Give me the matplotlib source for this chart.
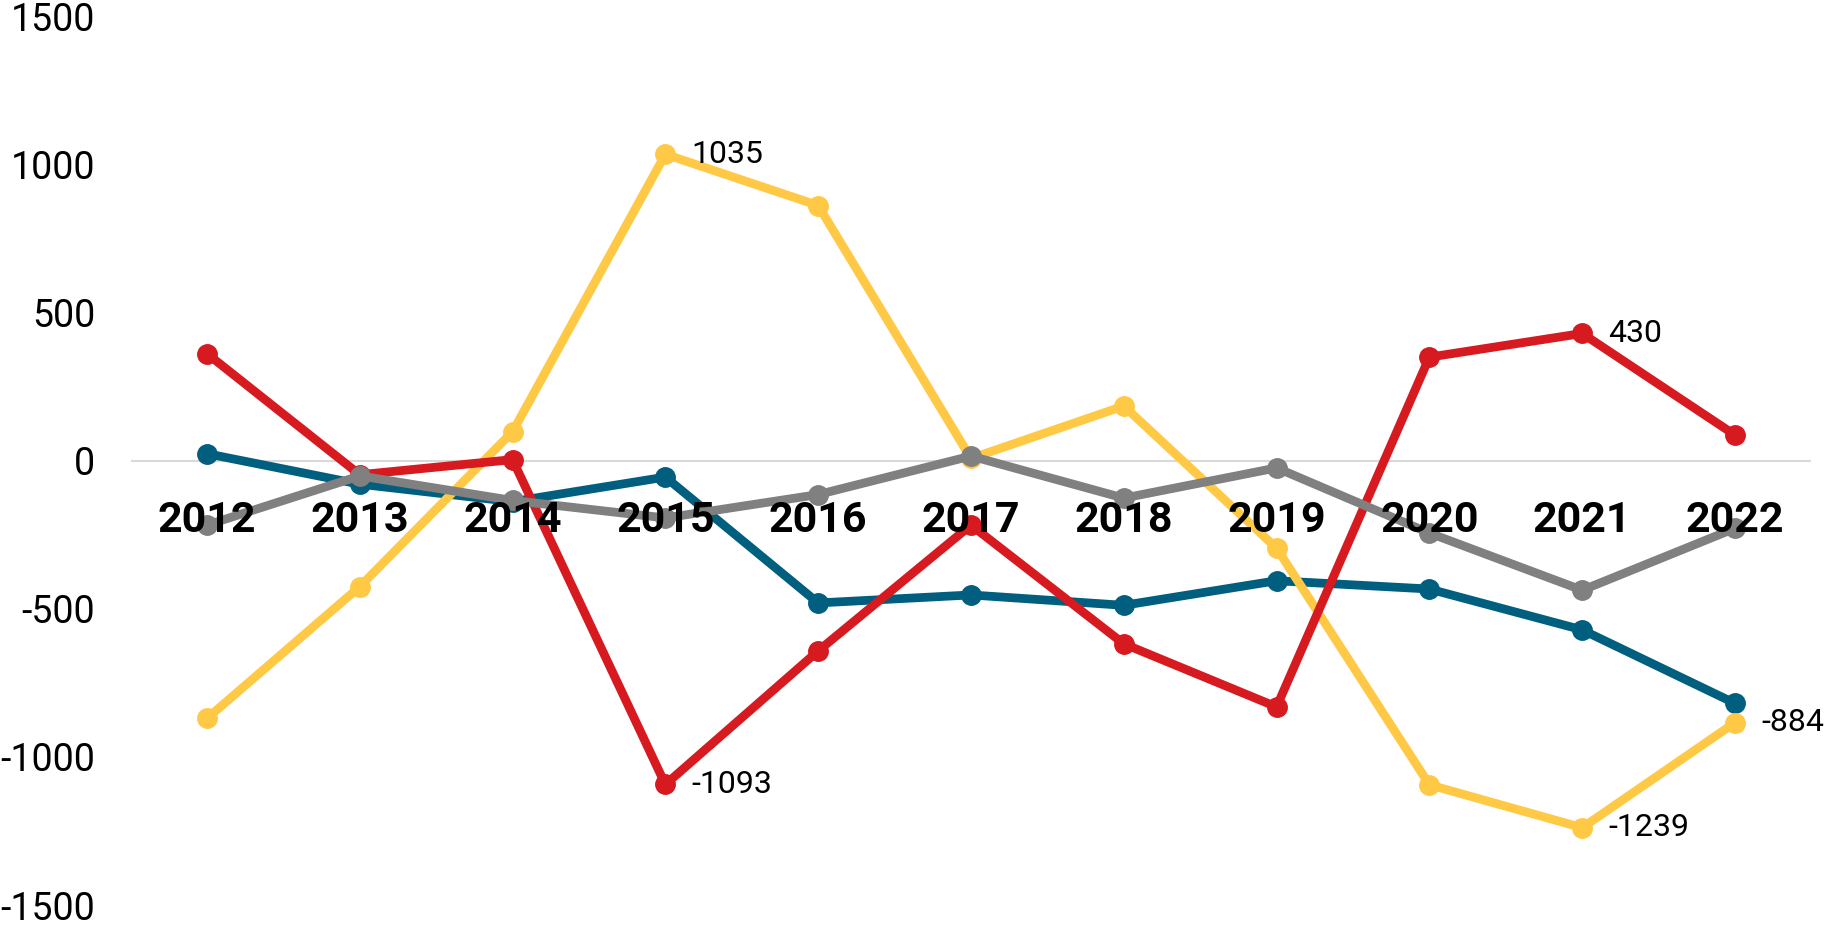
import matplotlib.pyplot as plt

plt.rcParams['font.family'] = ['Roboto', 'DejaVu Sans']
plt.rcParams['axes.unicode_minus'] = False

# Data
years = ['2012', '2013', '2014', '2015', '2016', '2017', '2018', '2019', '2020', '2021', '2022']
teal = [24, -79, -138, -55, -480, -453, -488, -405, -433, -571, -819]
yellow = [-870, -425, 98, 1035, 862, 8, 185, -295, -1094, -1239, -884]
red = [362, -47, 4, -1093, -642, -217, -618, -831, 350, 430, 87]
grey = [-217, -51, -134, -193, -114, 16, -126, -24, -244, -437, -228]

# Points that carry a value label: (series, index)
labelled = [('yellow', 3), ('red', 3), ('red', 9), ('yellow', 9), ('yellow', 10)]

colors = {'teal': '#005F7F', 'yellow': '#FFC845', 'red': '#D71920', 'grey': '#808080'}
series = {'teal': teal, 'yellow': yellow, 'red': red, 'grey': grey}

fig = plt.figure(figsize=(18.26, 9.25), dpi=100)
ax = fig.add_axes([0.0715, 0.0216, 0.9205, 0.9605])

x = list(range(len(years)))
ax.axhline(0, color='#D9D9D9', lw=1.5, zorder=1)
for name in ['teal', 'yellow', 'red', 'grey']:
    ax.plot(x, series[name], color=colors[name], lw=6.3, marker='o',
            markersize=14, solid_joinstyle='round', zorder=2)

for name, i in labelled:
    ax.annotate(str(series[name][i]), (x[i], series[name][i]),
                xytext=(19, 0), textcoords='offset points',
                ha='left', va='center', fontsize=23, color='black', zorder=4)

# year labels sit just under the zero line, drawn over the lines
for i, yr in enumerate(years):
    ax.annotate(yr, (x[i], 0), xytext=(0, -51), textcoords='offset points',
                ha='center', va='baseline', fontsize=31, fontweight='bold',
                color='black', zorder=5)

ax.set_xlim(-0.5, 10.5)
ax.set_ylim(-1500, 1500)
ax.set_xticks([])
ax.set_yticks([-1500, -1000, -500, 0, 500, 1000, 1500])
ax.tick_params(axis='y', length=0, pad=25.6, labelsize=27)
for lab in ax.get_yticklabels():
    lab.set_ha('right')

for s in ax.spines.values():
    s.set_visible(False)

plt.savefig('out.png', dpi=100)
